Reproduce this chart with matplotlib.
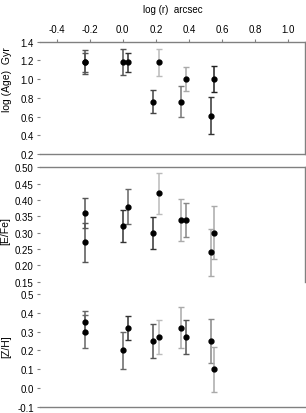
import matplotlib
matplotlib.use("Agg")
import matplotlib.pyplot as plt
from matplotlib.ticker import FormatStrFormatter

plt.rcParams['font.family'] = ['Liberation Sans', 'DejaVu Sans']

# Data
log_r = [-0.23, -0.23, 0.0, 0.03, 0.18, 0.22, 0.35, 0.38, 0.53, 0.55]
log_age = [1.18, 1.18, 1.18, 1.18, 0.76, 1.18, 0.76, 1.00, 0.61, 1.00]
log_age_err = [0.13, 0.10, 0.14, 0.10, 0.125, 0.145, 0.165, 0.125, 0.20, 0.135]
efe = [0.36, 0.27, 0.32, 0.38, 0.30, 0.42, 0.34, 0.34, 0.24, 0.30]
efe_err = [0.045, 0.06, 0.048, 0.054, 0.049, 0.063, 0.064, 0.052, 0.072, 0.082]
zh = [0.35, 0.30, 0.20, 0.32, 0.25, 0.27, 0.32, 0.27, 0.25, 0.10]
zh_err = [0.06, 0.09, 0.10, 0.065, 0.09, 0.09, 0.11, 0.09, 0.115, 0.12]

xticks = [-0.4, -0.2, 0.0, 0.2, 0.4, 0.6, 0.8, 1.0]
age_ticks = [0.2, 0.4, 0.6, 0.8, 1.0, 1.2, 1.4]
efe_ticks = [0.15, 0.20, 0.25, 0.30, 0.35, 0.40, 0.45, 0.50]
zh_ticks = [-0.1, 0.0, 0.1, 0.2, 0.3, 0.4, 0.5]

# Styles (error bar colours per point, per panel)
age_colors = ['#555555', '#555555', '#555555', '#333333', '#444444', '#bbbbbb', '#777777', '#aaaaaa', '#333333', '#222222']
efe_colors = ['#555555', '#555555', '#333333', '#666666', '#333333', '#bbbbbb', '#aaaaaa', '#888888', '#aaaaaa', '#aaaaaa']
zh_colors = ['#666666', '#666666', '#666666', '#333333', '#555555', '#bbbbbb', '#aaaaaa', '#555555', '#888888', '#aaaaaa']

W, H = 306, 414
fig = plt.figure(figsize=(W / 100, H / 100), dpi=100)

def ax_at(left, top, right, bottom):
    return fig.add_axes([left / W, 1 - bottom / H, (right - left) / W, (bottom - top) / H])

ax1 = ax_at(40, 42.7, 305, 155)
ax2 = ax_at(40, 168.3, 305, 282.7)
ax3 = ax_at(40, 295, 305, 407.7)

spine_c = '#808080'
fs = 7

panels = [
    (ax1, log_age, log_age_err, age_colors, (0.2, 1.4), age_ticks, '%.1f', 'log (Age)  Gyr', (-0.105, 0.67)),
    (ax2, efe, efe_err, efe_colors, (0.15, 0.50), efe_ticks, '%.2f', '[E/Fe]', (-0.112, 0.45)),
    (ax3, zh, zh_err, zh_colors, (-0.1, 0.5), zh_ticks, '%.1f', '[Z/H]', (-0.11, 0.54)),
]

for ax, vals, errs, cols, ylim, yt, fmt, lab, lc in panels:
    for x, v, e, c in zip(log_r, vals, errs, cols):
        ax.errorbar([x], [v], yerr=[e], fmt='o', color='black', ms=3.5,
                    ecolor=c, elinewidth=1.1, capsize=2.5, capthick=1.0, zorder=3)
    ax.set_xlim(-0.5, 1.1)
    ax.set_ylim(*ylim)
    ax.set_yticks(yt)
    ax.yaxis.set_major_formatter(FormatStrFormatter(fmt))
    ax.tick_params(axis='y', direction='out', length=2.5, width=0.8, color=spine_c,
                   labelsize=fs, pad=2)
    ax.set_ylabel(lab, fontsize=fs + 0.5)
    ax.yaxis.set_label_coords(*lc)
    for s in ax.spines.values():
        s.set_color(spine_c)
        s.set_linewidth(1.0)
    ax.spines['left'].set_visible(False)

# Top panel: x axis on top
ax1.xaxis.tick_top()
ax1.xaxis.set_label_position('top')
ax1.set_xticks(xticks)
ax1.xaxis.set_major_formatter(FormatStrFormatter('%.1f'))
ax1.tick_params(axis='x', direction='out', length=2.5, width=0.8, color=spine_c,
                labelsize=fs, pad=3)
ax1.set_xlabel('log (r)  arcsec', fontsize=fs, labelpad=9)

# Middle panel: top + right frame only
ax2.set_xticks([])
ax2.spines['bottom'].set_visible(False)

# Bottom panel: bottom frame only
ax3.set_xticks([])
ax3.spines['top'].set_visible(False)
ax3.spines['right'].set_visible(False)

fig.savefig('out.png', dpi=100)
